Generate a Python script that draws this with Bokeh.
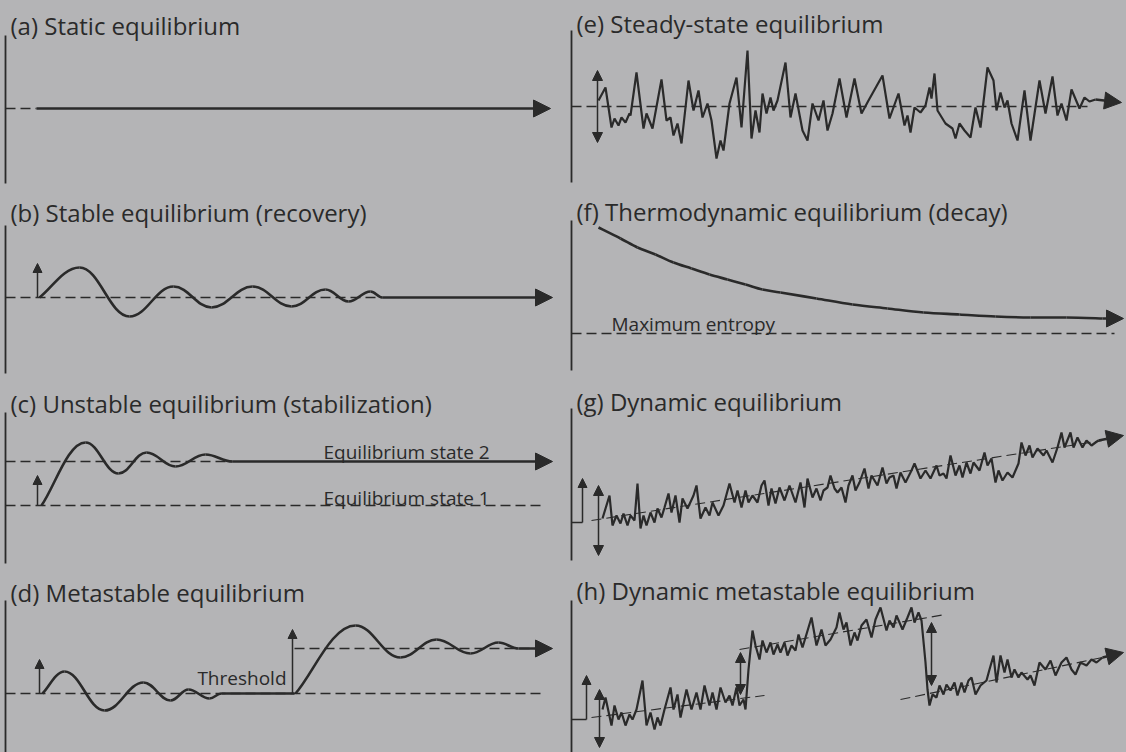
from bokeh.plotting import figure
from bokeh.layouts import gridplot
from bokeh.models import Range1d, Arrow, NormalHead
from bokeh.embed import file_html
from bokeh.resources import INLINE
from bokeh.core.properties import value

BG = "#b4b4b6"
INK = "#2a2a2a"
FONT = "Open Sans"

# ---------------- data (t = time from the axis, v = state above the reference level) -------------
titles = {
    "a": "(a) Static equilibrium",
    "b": "(b) Stable equilibrium (recovery)",
    "c": "(c) Unstable equilibrium (stabilization)",
    "d": "(d) Metastable equilibrium",
    "e": "(e) Steady-state equilibrium",
    "f": "(f) Thermodynamic equilibrium (decay)",
    "g": "(g) Dynamic equilibrium",
    "h": "(h) Dynamic metastable equilibrium",
}

# (a) constant state
a_start, a_end, a_level = 31, 545, 0

# (b) damped oscillation: extrema (t, v)
b_extrema = [(34, 0), (74, 30), (124, -19), (168, 11), (206, -10), (247, 11),
             (286, -9), (320, 8), (343, -4), (365, 6), (377, 0)]
b_end = 547
b_kick = (32, 0, 34)

# (c) move from state 1 (0) to state 2
c_state2 = 44
c_extrema = [(36, 0), (80, 63), (113, 32), (141, 53), (170, 39), (200, 51), (227, 44)]
c_end = 547
c_kick = (32, 0, 30)
c_labels = ["Equilibrium state 2", "Equilibrium state 1"]

# (d) metastable
d_upper = 45
d_extrema1 = [(37, 0), (59, 22), (99, -17), (138, 11), (165, -7), (183, 4), (204, -5), (216, 0)]
d_flat_end = 289
d_extrema2 = [(290, 0), (350, 68), (395, 36), (431, 54), (465, 40), (493, 51), (513, 45)]
d_end = 547
d_kicks = [(34, 0, 34), (287, 0, 64)]

# (e) steady state fluctuations
e_points = [(27, 6), (34, 19), (40, -21), (43, -12), (47, -19), (50, -11), (54, -16), (58, -7),
            (59, -9), (65, 34), (72, -22), (75, -7), (81, -22), (90, 27), (95, -14), (99, -11),
            (102, -29), (106, -17), (110, -37), (117, 26), (122, -4), (127, 16), (131, -11),
            (136, 3), (140, -14), (145, -52), (149, -34), (152, -44), (158, 3), (165, 29),
            (170, -21), (176, 56), (180, -32), (184, -4), (188, -26), (191, 13), (195, -7),
            (199, 9), (202, -4), (206, 6), (214, 44), (219, -11), (224, 13), (231, -24),
            (236, -34), (241, 3), (247, -14), (252, 6), (256, -24), (261, -7), (268, 28),
            (275, -11), (283, 28), (290, -7), (297, 6), (311, 31), (318, -12), (327, 13),
            (333, -19), (336, -9), (339, -26), (343, -1), (349, -6), (354, 1), (358, 19),
            (360, 8), (363, 33), (366, -4), (374, -17), (381, -22), (384, -32), (388, -17),
            (393, -24), (399, -31), (404, -1), (409, -21), (416, 39), (422, 26), (425, -4),
            (429, 14), (433, -1), (436, 6), (440, -17), (446, -34), (453, 16), (459, -34),
            (468, 26), (474, -7), (481, 30), (486, -9), (490, 3), (495, -14), (500, 17),
            (508, -2), (513, 9), (518, 5), (524, 7)]
e_tip = (550, 4)
e_range_arrow = (26, -36, 36)

# (f) decay towards maximum entropy
f_points = [(27, 106), (49, 95), (66, 86), (84, 79), (102, 71), (120, 65), (138, 59), (156, 54),
            (174, 49), (191, 44), (209, 41), (245, 35), (281, 29), (316, 25), (352, 21),
            (388, 19), (424, 17), (459, 16), (495, 16), (531, 15)]
f_tip = (552, 15)
f_label = "Maximum entropy"

# (g) dynamic equilibrium (rising trend)
g_points = [(31, 2), (38, 25), (41, -5), (45, 5), (49, -3), (52, 7), (56, -5), (59, 5), (63, 0),
            (66, 37), (69, -8), (72, 5), (75, -5), (79, 8), (83, -2), (86, 12), (90, 3), (93, 13),
            (97, 27), (100, 8), (104, 25), (108, -2), (111, 22), (116, 12), (122, 25), (125, 35),
            (129, 2), (134, 13), (138, 5), (141, 18), (147, 5), (152, 15), (158, 37), (163, 18),
            (166, 30), (170, 13), (174, 30), (177, 18), (181, 25), (186, 18), (190, 35), (193, 40),
            (197, 15), (200, 32), (204, 17), (208, 33), (213, 20), (218, 35), (224, 18), (229, 38),
            (233, 13), (236, 42), (241, 23), (245, 32), (249, 20), (252, 30), (256, 33), (259, 45),
            (263, 32), (266, 28), (270, 33), (274, 18), (277, 35), (281, 45), (284, 30), (288, 38),
            (293, 52), (297, 32), (300, 45), (306, 35), (311, 53), (315, 37), (318, 43), (322, 45),
            (325, 32), (329, 48), (334, 38), (340, 50), (343, 57), (349, 42), (354, 50), (359, 42),
            (365, 55), (368, 45), (372, 47), (375, 42), (379, 65), (384, 45), (388, 55), (391, 43),
            (395, 58), (399, 47), (402, 58), (408, 50), (413, 68), (416, 55), (420, 62), (424, 38),
            (427, 50), (431, 40), (436, 48), (441, 43), (447, 57), (450, 78), (454, 65), (458, 75),
            (461, 63), (466, 72), (472, 65), (475, 70), (481, 58), (486, 73), (490, 88), (493, 73),
            (499, 88), (502, 73), (506, 83), (511, 73), (515, 80), (520, 75), (524, 78), (527, 80)]
g_tip = (552, 85)
g_trend = [(20, 0), (531, 80)]
g_step = (11, -2, 42)
g_range_arrow = (27, -35, 35)

# (h) dynamic metastable equilibrium
h_points = [(31, 8), (34, 20), (40, -8), (43, 12), (47, -2), (50, 5), (54, -8), (58, 3), (61, -2),
            (65, 8), (71, 37), (75, -8), (79, 5), (83, -12), (86, 0), (89, -8), (93, 8), (99, 30),
            (102, 8), (106, 23), (109, 0), (115, 28), (120, 8), (125, 25), (129, 8), (133, 32),
            (138, 12), (141, 25), (145, 8), (149, 30), (154, 15), (158, 22), (161, 12), (165, 30),
            (168, 12), (172, 18), (174, 8), (177, 48), (181, 87), (184, 72), (188, 58), (191, 77),
            (195, 65), (199, 75), (202, 63), (206, 73), (209, 65), (213, 75), (216, 62), (220, 72),
            (224, 67), (227, 83), (231, 70), (234, 80), (240, 100), (245, 72), (250, 88), (254, 72),
            (259, 78), (265, 90), (268, 105), (272, 88), (275, 95), (279, 72), (283, 85), (286, 77),
            (290, 92), (295, 98), (300, 80), (304, 98), (309, 110), (315, 87), (318, 97), (322, 90),
            (325, 102), (331, 88), (336, 100), (340, 110), (343, 95), (347, 105), (350, 97),
            (354, 55), (356, 28), (358, 12), (361, 23), (365, 20), (368, 32), (372, 23), (375, 33),
            (379, 27), (383, 35), (386, 22), (390, 35), (393, 25), (397, 37), (400, 40), (404, 23),
            (409, 32), (415, 37), (418, 48), (422, 62), (425, 35), (429, 62), (433, 45), (436, 58),
            (440, 40), (443, 48), (447, 40), (450, 45), (456, 38), (459, 42), (463, 32), (468, 55),
            (474, 48), (479, 57), (484, 42), (490, 55), (495, 60), (500, 48), (504, 43), (509, 55),
            (515, 52), (520, 58), (525, 55), (531, 60)]
h_tip = (552, 65)
h_trends = [[(20, 0), (193, 22)], [(168, 68), (374, 103)], [(329, 18), (531, 60)]]
h_step = (15, -2, 42)
h_range_arrows = [(28, -30, 28), (169, 23, 65), (360, 32, 95)]

# ---------------- layout (reference-pixel frame of each panel) ----------------
ROW_H = 188
FIG_H = 188
LEFT_W, RIGHT_W = 566, 560
LEFT_X, RIGHT_X = (-5, 561), (-5, 555)
# panel: (row index, baseline y, axis top y, axis bottom y, title baseline y) in page pixels
panels = {
    "a": (0, 108, 35, 183, 25),
    "b": (1, 297, 225, 373, 212),
    "c": (2, 505, 412, 563, 403),
    "d": (3, 693, 600, 752, 592),
    "e": (0, 106, 30, 182, 23),
    "f": (1, 333, 220, 370, 211),
    "g": (2, 520, 408, 560, 401),
    "h": (3, 717, 600, 752, 590),
}

LW = 2.6
DASH = "10 5"
TITLE_SIZE = "24px"
LABEL_SIZE = "19px"


def make_panel(key, left):
    row, base, ax_top, ax_bot, title_y = panels[key]
    y0 = row * ROW_H
    p = figure(width=LEFT_W if left else RIGHT_W, height=FIG_H,
               x_range=Range1d(*(LEFT_X if left else RIGHT_X)),
               y_range=Range1d(base - (y0 + ROW_H), base - y0),
               output_backend="svg", toolbar_location=None, min_border=0,
               x_axis_location=None, y_axis_location=None,
               background_fill_color=BG, border_fill_color=BG, outline_line_color=None)
    for g in p.grid:
        g.visible = False
    p.line([0, 0], [base - ax_top, base - ax_bot], line_color=INK, line_width=1.8)
    p.text(x=[5], y=[base - title_y], text=[titles[key]], text_font=value(FONT),
           text_font_size=TITLE_SIZE, text_color=INK, text_baseline="alphabetic", text_align="left")
    return p


def label(p, x, y, texts, align="left"):
    p.text(x=x, y=y, text=texts, text_font=value(FONT), text_font_size=LABEL_SIZE,
           text_color=INK, text_baseline="alphabetic", text_align=align)


def arrow(p, x0, y0, x1, y1, size=17, lw=LW, both=False):
    head = dict(size=size, fill_color=INK, line_color=INK, line_width=1)
    p.add_layout(Arrow(start=NormalHead(**head) if both else None, end=NormalHead(**head),
                       x_start=x0, y_start=y0, x_end=x1, y_end=y1,
                       line_color=INK, line_width=lw))


def smooth(p, pts, lw=LW):
    """Cubic pieces between extrema, flat at every turning point."""
    xs0, ys0, xs1, ys1, cx0, cy0, cx1, cy1 = [], [], [], [], [], [], [], []
    for i in range(len(pts) - 1):
        (t0, v0), (t1, v1) = pts[i], pts[i + 1]
        dt = t1 - t0
        xs0.append(t0); ys0.append(v0); xs1.append(t1); ys1.append(v1)
        if i == 0:
            cx0.append(t0 + 0.3 * dt); cy0.append(v0 + 0.3 * (v1 - v0))
        else:
            cx0.append(t0 + 0.4 * dt); cy0.append(v0)
        cx1.append(t1 - 0.4 * dt); cy1.append(v1)
    p.bezier(x0=xs0, y0=ys0, x1=xs1, y1=ys1, cx0=cx0, cy0=cy0, cx1=cx1, cy1=cy1,
             line_color=INK, line_width=lw)


def spline(p, pts, lw=LW):
    """Catmull-Rom curve through read points."""
    n = len(pts)
    xs0, ys0, xs1, ys1, cx0, cy0, cx1, cy1 = [], [], [], [], [], [], [], []
    for i in range(n - 1):
        p0 = pts[i - 1] if i > 0 else pts[i]
        p1, p2 = pts[i], pts[i + 1]
        p3 = pts[i + 2] if i + 2 < n else pts[i + 1]
        xs0.append(p1[0]); ys0.append(p1[1]); xs1.append(p2[0]); ys1.append(p2[1])
        cx0.append(p1[0] + (p2[0] - p0[0]) / 6); cy0.append(p1[1] + (p2[1] - p0[1]) / 6)
        cx1.append(p2[0] - (p3[0] - p1[0]) / 6); cy1.append(p2[1] - (p3[1] - p1[1]) / 6)
    p.bezier(x0=xs0, y0=ys0, x1=xs1, y1=ys1, cx0=cx0, cy0=cy0, cx1=cx1, cy1=cy1,
             line_color=INK, line_width=lw)


def dashed(p, xs, ys, lw=1.3):
    p.line(xs, ys, line_color=INK, line_width=lw, line_dash=DASH)


def unzip(pts):
    return [q[0] for q in pts], [q[1] for q in pts]


# (a)
pa = make_panel("a", True)
dashed(pa, [0, a_start], [a_level, a_level])
arrow(pa, a_start, a_level, a_end, a_level)

# (b)
pb = make_panel("b", True)
dashed(pb, [0, b_extrema[-1][0]], [0, 0])
smooth(pb, b_extrema)
arrow(pb, b_extrema[-1][0], 0, b_end, 0)
arrow(pb, b_kick[0], b_kick[1], b_kick[0], b_kick[2], size=9, lw=1.5)

# (c)
pc = make_panel("c", True)
dashed(pc, [0, c_extrema[-1][0]], [c_state2, c_state2])
dashed(pc, [0, 538], [0, 0])
smooth(pc, c_extrema)
arrow(pc, c_extrema[-1][0], c_state2, c_end, c_state2)
arrow(pc, c_kick[0], c_kick[1], c_kick[0], c_kick[2], size=9, lw=1.5)
label(pc, [318, 318], [54, 8], c_labels)

# (d)
pd = make_panel("d", True)
dashed(pd, [0, 538], [0, 0])
dashed(pd, [d_flat_end, 538], [d_upper, d_upper])
smooth(pd, d_extrema1)
pd.line([d_extrema1[-1][0], d_flat_end], [0, 0], line_color=INK, line_width=LW)
smooth(pd, d_extrema2)
arrow(pd, d_extrema2[-1][0], d_upper, d_end, d_upper)
for (t, v0, v1) in d_kicks:
    arrow(pd, t, v0, t, v1, size=9, lw=1.5)
label(pd, [281], [16], ["Threshold"], align="right")

# (e)
pe = make_panel("e", False)
dashed(pe, [0, 516], [0, 0])
ex, ev = unzip(e_points)
pe.line(ex, ev, line_color=INK, line_width=2.2)
arrow(pe, ex[-1], ev[-1], e_tip[0], e_tip[1])
arrow(pe, e_range_arrow[0], e_range_arrow[1], e_range_arrow[0], e_range_arrow[2], size=10, lw=1.5, both=True)

# (f)
pf = make_panel("f", False)
dashed(pf, [0, 543], [0, 0])
spline(pf, f_points)
fx, fv = unzip(f_points)
arrow(pf, fx[-1], fv[-1], f_tip[0], f_tip[1])
label(pf, [40], [10], [f_label])

# (g)
pg = make_panel("g", False)
gtx, gtv = unzip(g_trend)
dashed(pg, gtx, gtv, lw=1.1)
gx, gv = unzip(g_points)
pg.line(gx, gv, line_color=INK, line_width=2.2)
arrow(pg, gx[-1], gv[-1], g_tip[0], g_tip[1])
pg.line([0, g_step[0]], [g_step[1], g_step[1]], line_color=INK, line_width=1.5)
arrow(pg, g_step[0], g_step[1], g_step[0], g_step[2], size=9, lw=1.5)
arrow(pg, g_range_arrow[0], g_range_arrow[1], g_range_arrow[0], g_range_arrow[2], size=10, lw=1.5, both=True)

# (h)
ph = make_panel("h", False)
for tr in h_trends:
    tx, tv = unzip(tr)
    dashed(ph, tx, tv, lw=1.1)
hx, hv = unzip(h_points)
ph.line(hx, hv, line_color=INK, line_width=2.2)
arrow(ph, hx[-1], hv[-1], h_tip[0], h_tip[1])
ph.line([0, h_step[0]], [h_step[1], h_step[1]], line_color=INK, line_width=1.5)
arrow(ph, h_step[0], h_step[1], h_step[0], h_step[2], size=9, lw=1.5)
for (t, v0, v1) in h_range_arrows:
    arrow(ph, t, v0, t, v1, size=10, lw=1.5, both=True)

grid = gridplot([[pa, pe], [pb, pf], [pc, pg], [pd, ph]], toolbar_location=None)

html = file_html(grid, INLINE, title="Types of equilibrium")
html = html.replace("<body>", '<body style="background:%s">' % BG)
open("out.html", "w").write(html)
